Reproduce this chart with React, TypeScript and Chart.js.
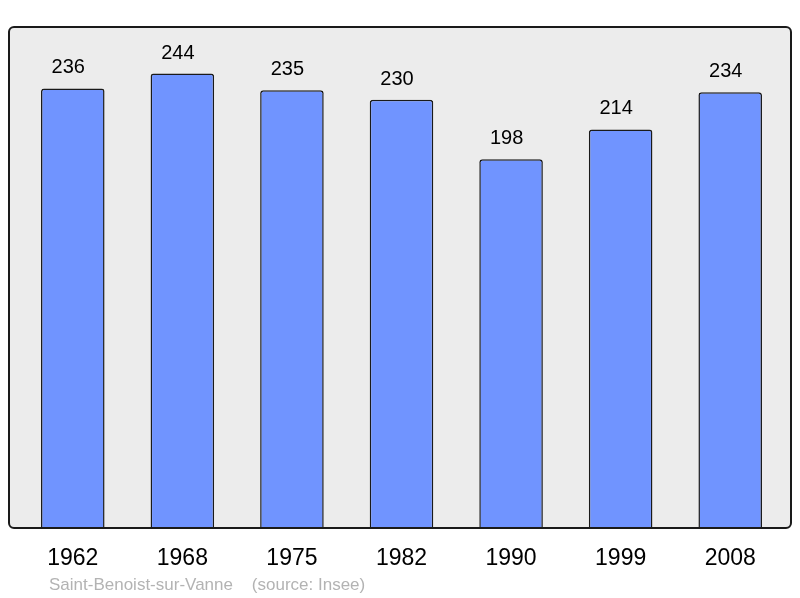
import React, { useEffect, useRef } from "react";
import { Chart, registerables } from "chart.js";

Chart.register(...registerables);

const years = ["1962", "1968", "1975", "1982", "1990", "1999", "2008"];
const population = [236, 244, 235, 230, 198, 214, 234];
const sourceText = "Saint-Benoist-sur-Vanne    (source: Insee)";

const FONT = "'Liberation Sans', Arial, sans-serif";

const framePlugin = {
  id: "frame",
  beforeDraw(chart: any) {
    const ctx = chart.ctx;
    ctx.save();
    ctx.fillStyle = "#ececec";
    ctx.beginPath();
    ctx.roundRect(9, 27, 782, 501, 5);
    ctx.fill();
    ctx.restore();
  },
  afterDraw(chart: any) {
    const ctx = chart.ctx;
    const x = chart.scales.x;
    const meta = chart.getDatasetMeta(0);
    ctx.save();
    ctx.strokeStyle = "#1a1a1a";
    ctx.lineWidth = 2;
    ctx.beginPath();
    ctx.roundRect(9, 27, 782, 501, 5);
    ctx.stroke();

    ctx.fillStyle = "#000";
    ctx.textAlign = "center";
    ctx.textBaseline = "alphabetic";
    ctx.font = `20px ${FONT}`;
    meta.data.forEach((bar: any, i: number) => {
      ctx.fillText(String(population[i]), bar.x - 4.5, bar.y - 15);
    });
    ctx.font = `23px ${FONT}`;
    years.forEach((y, i) => {
      ctx.fillText(y, x.getPixelForValue(i), 565);
    });
    ctx.textAlign = "left";
    ctx.fillStyle = "#b3b3b3";
    ctx.font = `17px ${FONT}`;
    ctx.fillText(sourceText, 49, 590);
    ctx.restore();
  },
};

export default function App() {
  const ref = useRef<HTMLCanvasElement>(null);
  useEffect(() => {
    document.body.style.margin = "0";
    const chart = new Chart(ref.current!, {
      type: "bar",
      data: {
        labels: years,
        datasets: [
          {
            data: population,
            backgroundColor: "#7094ff",
            borderColor: "#1a1a1a",
            borderWidth: 1.5,
            borderRadius: 3,
            barPercentage: 0.58,
            categoryPercentage: 1,
          },
        ],
      },
      options: {
        animation: false,
        responsive: false,
        maintainAspectRatio: false,
        devicePixelRatio: 1,
        layout: { padding: { left: 18, right: 15, top: 27, bottom: 70 } },
        plugins: { legend: { display: false }, tooltip: { enabled: false } },
        scales: {
          x: { display: false },
          y: { display: false, min: 0, max: 269 },
        },
      },
      plugins: [framePlugin],
    });
    return () => chart.destroy();
  }, []);
  return (
    <div style={{ position: "absolute", left: 0, top: 0, width: 800, height: 598 }}>
      <canvas ref={ref} width={800} height={598} style={{ width: 800, height: 598 }} />
    </div>
  );
}
